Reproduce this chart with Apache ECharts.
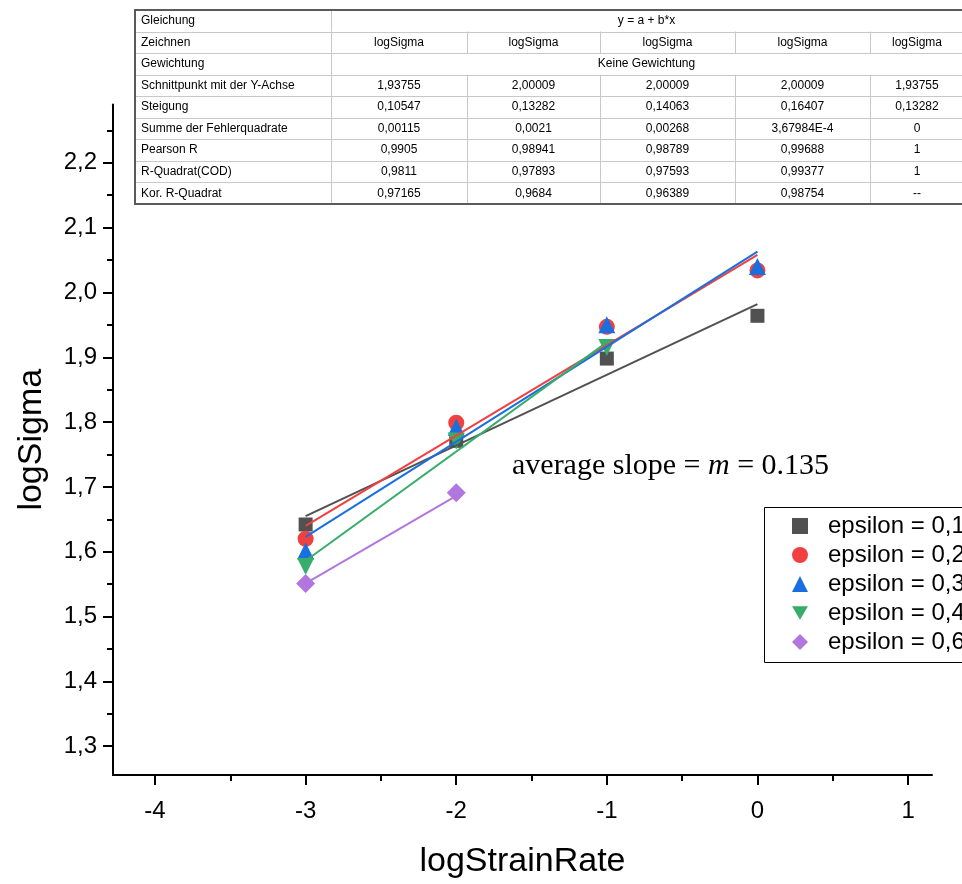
<!DOCTYPE html>
<html>
<head>
<meta charset="utf-8">
<script src="https://cdn.jsdelivr.net/npm/echarts@6/dist/echarts.min.js"></script>
<style>
html,body{margin:0;padding:0;background:#fff;}
#chart{width:962px;height:884px;}
</style>
</head>
<body>
<div id="chart"></div>
<script>
// ---------- data ----------
const xTicks = [-4, -3, -2, -1, 0, 1];
const xMinorTicks = [-3.5, -2.5, -1.5, -0.5, 0.5];
const yTicks = [1.3, 1.4, 1.5, 1.6, 1.7, 1.8, 1.9, 2.0, 2.1, 2.2];
const yMinorTicks = [1.35, 1.45, 1.55, 1.65, 1.75, 1.85, 1.95, 2.05, 2.15, 2.25];

const seriesNames = ['epsilon = 0,1', 'epsilon = 0,2', 'epsilon = 0,3', 'epsilon = 0,4', 'epsilon = 0,6'];
const seriesColors = ['#515151', '#F14040', '#1A6FDF', '#37AD6B', '#B177DE'];

const eps01 = [[-3, 1.642], [-2, 1.771], [-1, 1.898], [0, 1.964]];
const eps02 = [[-3, 1.620], [-2, 1.799], [-1, 1.947], [0, 2.034]];
const eps03 = [[-3, 1.601], [-2, 1.792], [-1, 1.950], [0, 2.040]];
const eps04 = [[-3, 1.577], [-2, 1.771], [-1, 1.915]];
const eps06 = [[-3, 1.551], [-2, 1.691]];

// fitted lines (end points)
const fit01 = [[-3, 1.655], [0, 1.982]];
const fit02 = [[-3, 1.640], [0, 2.058]];
const fit03 = [[-3, 1.623], [0, 2.063]];
const fit04 = [[-3, 1.586], [-1, 1.923]];
const fit06 = [[-3, 1.551], [-2, 1.686]];

// table
const tableRowLabels = ['Gleichung', 'Zeichnen', 'Gewichtung', 'Schnittpunkt mit der Y-Achse', 'Steigung',
  'Summe der Fehlerquadrate', 'Pearson R', 'R-Quadrat(COD)', 'Kor. R-Quadrat'];
const equationText = 'y = a + b*x';
const weightingText = 'Keine Gewichtung';
const plotNames = ['logSigma', 'logSigma', 'logSigma', 'logSigma', 'logSigma'];
const intercepts = ['1,93755', '2,00009', '2,00009', '2,00009', '1,93755'];
const slopes = ['0,10547', '0,13282', '0,14063', '0,16407', '0,13282'];
const sse = ['0,00115', '0,0021', '0,00268', '3,67984E-4', '0'];
const pearsonR = ['0,9905', '0,98941', '0,98789', '0,99688', '1'];
const rSquare = ['0,9811', '0,97893', '0,97593', '0,99377', '1'];
const adjRSquare = ['0,97165', '0,9684', '0,96389', '0,98754', '--'];

const annotationParts = ['average slope = ', 'm', ' = 0.135'];

// ---------- chart ----------
const chart = echarts.init(document.getElementById('chart'), null, {renderer: 'canvas'});

const X_MIN = -4.279, X_MAX = 1.159, Y_MIN = 1.2555, Y_MAX = 2.29;
const SANS = '"Liberation Sans", Arial, sans-serif';
const SERIF = '"Liberation Serif", "Times New Roman", serif';

// table graphic
const tableEls = [];
const colEdges = [135, 331, 467, 600, 735, 870, 1004];
const tTop = 10, tBottom = 204;
const rowH = (tBottom - tTop) / tableRowLabels.length;
const gridLine = '#c8c8c8';
tableEls.push({type: 'rect', shape: {x: 135, y: tTop, width: 869, height: tBottom - tTop},
  style: {fill: '#fff', stroke: null}, z: 10});
for (let r = 1; r < tableRowLabels.length; r++) {
  const y = Math.round(tTop + r * rowH) + 0.5;
  tableEls.push({type: 'line', shape: {x1: 135, y1: y, x2: 1004, y2: y}, style: {stroke: gridLine, lineWidth: 1}, z: 11});
}
for (let c = 1; c < colEdges.length - 1; c++) {
  const x = colEdges[c] + 0.5;
  for (let r = 0; r < tableRowLabels.length; r++) {
    if (c > 1 && (r === 0 || r === 2)) continue; // merged cells
    tableEls.push({type: 'line', shape: {x1: x, y1: tTop + r * rowH, x2: x, y2: tTop + (r + 1) * rowH},
      style: {stroke: gridLine, lineWidth: 1}, z: 11});
  }
}
tableEls.push({type: 'rect', shape: {x: 135, y: tTop, width: 869, height: tBottom - tTop},
  style: {fill: null, stroke: '#5a5a5a', lineWidth: 2}, z: 12});
function tText(txt, x, y, align) {
  tableEls.push({type: 'text', x: x, y: y, z: 13,
    style: {text: txt, font: '12px ' + SANS, fill: '#000', align: align, verticalAlign: 'middle'}});
}
const valueRows = [null, plotNames, null, intercepts, slopes, sse, pearsonR, rSquare, adjRSquare];
tableRowLabels.forEach((lab, r) => {
  const yc = tTop + (r + 0.5) * rowH;
  tText(lab, 141, yc, 'left');
  if (r === 0) tText(equationText, (colEdges[1] + 962) / 2, yc, 'center');
  else if (r === 2) tText(weightingText, (colEdges[1] + 962) / 2, yc, 'center');
  else valueRows[r].forEach((v, c) => {
    const x0 = colEdges[c + 1], x1 = c === 4 ? 964 : colEdges[c + 2];
    tText(v, (x0 + x1) / 2, yc, 'center');
  });
});

// legend box
const legendBox = {type: 'rect', shape: {x: 764.5, y: 507.5, width: 300, height: 155},
  style: {fill: '#fff', stroke: '#000', lineWidth: 1}, z: 3};

// annotation
const annotation = {type: 'text', x: 512, y: 466, z: 6,
  style: {
    text: '{a|' + annotationParts[0] + '}{m|' + annotationParts[1] + '}{a|' + annotationParts[2] + '}',
    rich: {
      a: {font: '30px ' + SERIF, fill: '#000'},
      m: {font: 'italic 30px ' + SERIF, fill: '#000'}
    },
    verticalAlign: 'middle', align: 'left'
  }};

const scatterData = [eps01, eps02, eps03, eps04, eps06];
const fitData = [fit01, fit02, fit03, fit04, fit06];
const symbols = ['rect', 'circle', 'triangle', 'triangle', 'diamond'];
const symbolSizes = [14, 16, 17, 17, 19];
const symbolRot = [0, 0, 0, 180, 0];
const legendIcons = ['rect', 'circle', 'triangle', 'path://M0,0 L20,0 L10,17 Z', 'diamond'];

const series = [];
scatterData.forEach((d, i) => {
  series.push({
    name: seriesNames[i], type: 'scatter', data: d, symbol: symbols[i],
    symbolSize: symbolSizes[i], symbolRotate: symbolRot[i],
    itemStyle: {color: seriesColors[i], opacity: 1}, z: 2, silent: true
  });
});
fitData.forEach((d, i) => {
  series.push({
    name: 'fit' + i, type: 'line', data: d, showSymbol: false, symbol: 'none',
    lineStyle: {color: seriesColors[i], width: 2}, z: 3, silent: true
  });
});

const commaFmt = v => v.toFixed(1).replace('.', ',');
const intFmt = v => String(Math.round(v));

const option = {
  animation: false,
  backgroundColor: '#fff',
  grid: {left: 113, right: 30, top: 163 - (Y_MAX - 2.2) * 650, bottom: 107, containLabel: false},
  xAxis: [{
    type: 'value', min: X_MIN, max: X_MAX, position: 'bottom',
    name: 'logStrainRate', nameLocation: 'middle', nameGap: 70,
    nameTextStyle: {fontSize: 34, fontFamily: SANS, color: '#000'},
    axisLine: {show: true, onZero: false, lineStyle: {color: '#000', width: 2}},
    axisTick: {show: true, inside: false, length: 10, lineStyle: {color: '#000', width: 2}, customValues: xTicks},
    axisLabel: {show: true, margin: 24, fontSize: 24, fontFamily: SANS, color: '#000', customValues: xTicks, formatter: intFmt},
    splitLine: {show: false}
  }, {
    type: 'value', min: X_MIN, max: X_MAX, position: 'bottom',
    axisLine: {show: false, onZero: false},
    axisTick: {show: true, inside: false, length: 6, lineStyle: {color: '#000', width: 2}, customValues: xMinorTicks},
    axisLabel: {show: false}, splitLine: {show: false}
  }],
  yAxis: [{
    type: 'value', min: Y_MIN, max: Y_MAX, position: 'left',
    name: 'logSigma', nameLocation: 'middle', nameGap: 64,
    nameTextStyle: {fontSize: 34, fontFamily: SANS, color: '#000'},
    axisLine: {show: true, onZero: false, lineStyle: {color: '#000', width: 2}},
    axisTick: {show: true, inside: false, length: 10, lineStyle: {color: '#000', width: 2}, customValues: yTicks},
    axisLabel: {show: true, margin: 16, fontSize: 24, fontFamily: SANS, color: '#000', customValues: yTicks, formatter: commaFmt},
    splitLine: {show: false}
  }, {
    type: 'value', min: Y_MIN, max: Y_MAX, position: 'left', offset: 0,
    axisLine: {show: false, onZero: false},
    axisTick: {show: true, inside: false, length: 6, lineStyle: {color: '#000', width: 2}, customValues: yMinorTicks},
    axisLabel: {show: false}, splitLine: {show: false}
  }],
  legend: {
    show: true, orient: 'vertical', left: 787, top: 509, itemWidth: 16, itemHeight: 16, itemGap: 5,
    data: seriesNames.map((n, i) => ({name: n, icon: legendIcons[i]})), selectedMode: false, z: 5,
    textStyle: {fontSize: 24, fontFamily: SANS, color: '#000', padding: [0, 0, 0, 15]}
  },
  graphic: {elements: [legendBox, annotation].concat(tableEls)},
  series: series
};
chart.setOption(option);
</script>
</body>
</html>
